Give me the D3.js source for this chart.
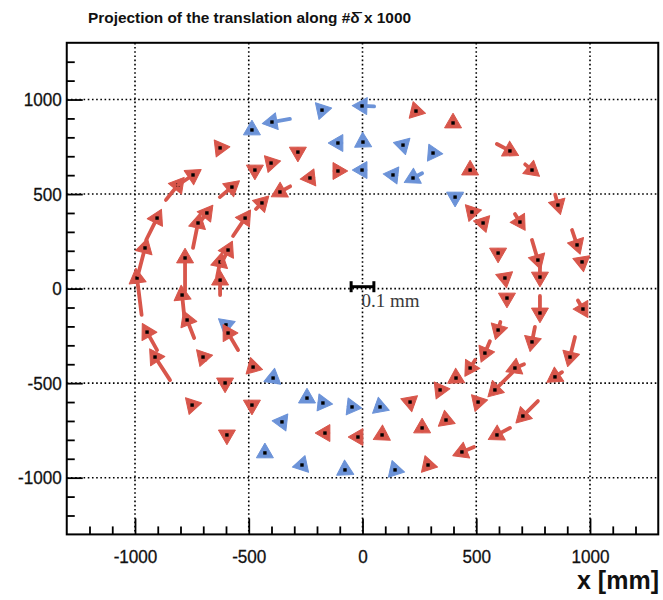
<!DOCTYPE html>
<html>
<head>
<meta charset="utf-8">
<script src="https://cdn.jsdelivr.net/npm/d3@7"></script>
<style>
  body { margin: 0; background: #fff; }
</style>
</head>
<body>
<svg id="chart" width="663" height="600"></svg>
<script>
// Module centres in the transverse plane (mm)
const posX = [
  -991, -956, -903, -811, -745, -626, -486, -398, -178, -2, 235, 398, 648, 745, 859, 943,
  965, 969, 912, 846, 705, 591, 437, 288, 143, -77, -266, -429, -596, -749, -912, -947,
  -780, -793, -771, -701, -604, -486, -354, -165, -20, 86, 262, 367, 508, 582, 670, 745,
  780, 780, 771, 692, 473, 310, 178, 2, -108, -284, -402, -473, -574, -684, -723,
  -626, -626, -591, -516, -442, -363, -231, -108, -2, 134, 222, 407, 481, 530, 596, 626,
  635, 596, 538, 473, 411, 341, 209, 77, -46, -174, -244, -393, -481, -591, -600
];
const posY = [
  56, 215, 373, 548, 601, 744, 839, 881, 944, 966, 939, 876, 728, 627, 442, 231,
  141, -108, -362, -467, -674, -774, -864, -933, -959, -959, -933, -869, -774, -616, -362, -230,
  162, -34, -166, -362, -499, -616, -705, -764, -785, -774, -737, -695, -600, -536, -420, -282,
  -129, 61, 151, 352, 627, 717, 759, 775, 770, 722, 664, 627, 537, 400, 347,
  45, 141, 204, 373, 453, 511, 585, 622, 627, 601, 585, 484, 405, 347, 188, 56,
  -50, -219, -341, -420, -473, -536, -600, -626, -626, -605, -579, -473, -415, -235, -192
];
// Projected translation of each module (mm); drawn magnified x1000
const shiftX = [
  -0.020, 0.031, 0.048, 0.053, 0.066, -0.005, 0.000, -0.079, -0.009, -0.053, 0.014, 0.000, 0.057, 0.030, 0.012, 0.022,
  0.002, 0.022, -0.022, -0.031, -0.066, -0.057, -0.053, -0.004, 0.015, 0.013, 0.004, 0.000, 0.000, -0.004, -0.066, -0.044,
  0.000, -0.009, -0.031, -0.011, 0.000, 0.000, 0.008, -0.015, -0.015, -0.013, 0.000, -0.002, -0.009, -0.075, -0.040, -0.013,
  0.000, 0.000, 0.026, 0.022, 0.000, -0.008, 0.010, -0.012, -0.015, 0.000, -0.004, 0.000, 0.053, 0.044, 0.022,
  0.000, 0.013, 0.026, 0.053, 0.026, -0.045, -0.015, 0.015, -0.015, -0.015, -0.040, 0.000, -0.009, 0.004, 0.000, 0.002,
  0.000, -0.010, -0.022, -0.022, -0.012, -0.008, -0.014, 0.014, 0.015, 0.015, 0.000, 0.002, -0.010, -0.044, -0.011
];
const shiftY = [
  0.195, 0.143, 0.116, 0.079, 0.053, -0.014, 0.015, -0.016, 0.012, 0.002, -0.004, 0.015, -0.037, -0.030, -0.055, -0.079,
  -0.015, -0.045, -0.106, -0.025, -0.079, -0.037, -0.026, 0.015, -0.004, -0.008, 0.015, 0.015, -0.015, -0.015, 0.122, 0.095,
  0.175, 0.106, 0.095, 0.015, -0.015, -0.015, 0.013, 0.000, 0.000, -0.008, 0.015, 0.015, 0.012, -0.090, -0.020, -0.079,
  -0.090, -0.079, -0.106, -0.042, 0.015, -0.014, 0.012, -0.009, 0.000, -0.015, -0.015, -0.015, 0.053, 0.069, 0.132,
  0.079, 0.079, 0.063, 0.095, 0.032, -0.030, -0.002, 0.000, 0.000, 0.002, -0.025, -0.015, 0.012, -0.015, -0.015, -0.015,
  -0.015, -0.042, -0.063, -0.042, -0.009, 0.013, 0.006, -0.006, -0.002, -0.002, 0.015, 0.015, -0.012, 0.090, 0.011
];
// Marker family: 0 = red, 1 = blue
const family = [
  0, 0, 0, 0, 0, 0, 1, 1, 1, 1, 0, 0, 0, 0, 0, 0,
  0, 0, 0, 0, 0, 0, 0, 0, 1, 1, 1, 1, 0, 0, 0, 0,
  0, 0, 0, 0, 0, 0, 1, 0, 0, 0, 0, 0, 0, 0, 0, 0,
  0, 0, 0, 0, 0, 1, 1, 1, 1, 0, 0, 0, 0, 0, 0,
  0, 0, 0, 0, 0, 0, 0, 0, 1, 1, 1, 1, 0, 0, 0, 0,
  0, 0, 0, 0, 0, 0, 0, 1, 1, 1, 1, 1, 0, 0, 1
];
const xTickValues = [-1000, -500, 0, 500, 1000];
const yTickValues = [-1000, -500, 0, 500, 1000];
const magnification = 1000;
const scaleBarMm = 0.1;

const svg = d3.select("#chart");
const frameL = 66.75, frameR = 658.25, frameT = 42.8, frameB = 534.4;
const x = d3.scaleLinear().domain([-1300, 1300]).range([frameL, frameR]);
const y = d3.scaleLinear().domain([-1300, 1300]).range([frameB, frameT]);
const colours = ["#d8564b", "#6c93d8"];
const sans = "'Liberation Sans', Arial, Helvetica, sans-serif";

// Title
const title = svg.append("text")
  .attr("x", 88).attr("y", 23)
  .style("font-family", sans).style("font-size", "15px").style("font-weight", "bold")
  .attr("fill", "#111").attr("textLength", 323).attr("lengthAdjust", "spacingAndGlyphs");
title.append("tspan").text("Projection of the translation along #");
title.append("tspan").text("\u03B4\u0304");
title.append("tspan").text(" x 1000");

// Dotted grid at the major ticks
const grid = svg.append("g").attr("stroke", "#000").attr("stroke-width", 1.6)
  .attr("stroke-dasharray", "1.6 2.6");
grid.selectAll("line.v").data(xTickValues).join("line").attr("class", "v")
  .attr("x1", d => x(d)).attr("x2", d => x(d)).attr("y1", frameT).attr("y2", frameB);
grid.selectAll("line.h").data(yTickValues).join("line").attr("class", "h")
  .attr("x1", frameL).attr("x2", frameR).attr("y1", d => y(d)).attr("y2", d => y(d));

// Axes (ticks pointing into the frame)
const minorX = d3.range(-1200, 1300, 100).filter(v => v % 500 !== 0);
const minorY = d3.range(-1200, 1300, 100).filter(v => v % 500 !== 0);
const plain = d => String(d);

function styleAxis(g) {
  g.select(".domain").remove();
  g.selectAll(".tick line").attr("stroke", "#000").attr("stroke-width", 1.8);
}
function styleLabels(g) {
  g.selectAll("text")
    .style("font-family", sans).style("font-size", "19px")
    .attr("fill", "#111").attr("stroke", "#111").attr("stroke-width", 0.3)
    .attr("textLength", function () { return this.getComputedTextLength() * 0.9; })
    .attr("lengthAdjust", "spacingAndGlyphs");
}

svg.append("g").attr("transform", `translate(0,${frameB})`)
  .call(d3.axisBottom(x).tickValues(minorX).tickSize(-8).tickFormat(""))
  .call(styleAxis);
svg.append("g").attr("transform", `translate(0,${frameB})`)
  .call(d3.axisBottom(x).tickValues(xTickValues).tickSize(-16).tickPadding(15).tickFormat(plain))
  .call(styleAxis).call(styleLabels);

svg.append("g").attr("transform", `translate(${frameL},0)`)
  .call(d3.axisLeft(y).tickValues(minorY).tickSize(-8).tickFormat(""))
  .call(styleAxis);
svg.append("g").attr("transform", `translate(${frameL},0)`)
  .call(d3.axisLeft(y).tickValues(yTickValues).tickSize(-16).tickPadding(5).tickFormat(plain))
  .call(styleAxis).call(styleLabels);

// Frame
svg.append("rect").attr("x", frameL).attr("y", frameT)
  .attr("width", frameR - frameL).attr("height", frameB - frameT)
  .attr("fill", "none").attr("stroke", "#000").attr("stroke-width", 2);

// Axis title
svg.append("text").attr("x", 659).attr("y", 589).attr("text-anchor", "end")
  .style("font-family", sans).style("font-size", "25px").style("font-weight", "bold")
  .attr("fill", "#111").attr("textLength", 82).attr("lengthAdjust", "spacingAndGlyphs")
  .text("x [mm]");

// Translation arrows: triangular head on the module, tail behind it
const modules = posX.map((px, i) => {
  const cx = x(px), cy = y(posY[i]);
  const hx = x(px + shiftX[i] * magnification) - cx;
  const hy = y(posY[i] + shiftY[i] * magnification) - cy;
  return { cx, cy, hx, hy, fam: family[i] };
}).sort((a, b) => b.fam - a.fam);

const side = 17, h = side * Math.sqrt(3) / 2;
const tri = `M${(2 * h / 3).toFixed(2)},0L${(-h / 3).toFixed(2)},${side / 2}L${(-h / 3).toFixed(2)},${-side / 2}Z`;

const arrows = svg.append("g");
const m = arrows.selectAll("g").data(modules).join("g");
m.append("line")
  .attr("x1", d => d.cx).attr("y1", d => d.cy)
  .attr("x2", d => d.cx - d.hx).attr("y2", d => d.cy - d.hy)
  .attr("stroke", d => colours[d.fam]).attr("stroke-width", 3.8).attr("stroke-linecap", "round");
m.append("path")
  .attr("d", tri)
  .attr("transform", d => `translate(${d.cx},${d.cy}) rotate(${Math.atan2(d.hy, d.hx) * 180 / Math.PI})`)
  .attr("fill", d => colours[d.fam])
  .attr("stroke", d => colours[d.fam]).attr("stroke-width", 1).attr("stroke-linejoin", "round");
m.append("rect")
  .attr("x", d => d.cx - 1.7).attr("y", d => d.cy - 1.7)
  .attr("width", 3.4).attr("height", 3.4).attr("fill", "#000");

// Scale bar: 0.1 mm magnified
const barY = 10;
const x0 = x(-scaleBarMm * magnification / 2), x1 = x(scaleBarMm * magnification / 2);
const bar = svg.append("g").attr("stroke", "#000").attr("stroke-width", 3);
bar.append("line").attr("x1", x0).attr("x2", x1).attr("y1", y(barY)).attr("y2", y(barY));
bar.append("line").attr("x1", x0).attr("x2", x0).attr("y1", y(barY) - 5.5).attr("y2", y(barY) + 5.5);
bar.append("line").attr("x1", x1).attr("x2", x1).attr("y1", y(barY) - 5.5).attr("y2", y(barY) + 5.5);
svg.append("text").attr("x", x(0) - 1).attr("y", 307)
  .style("font-family", "'Liberation Serif', 'Times New Roman', serif").style("font-size", "19px")
  .attr("fill", "#3a3a3a")
  .text(`${scaleBarMm} mm`);
</script>
</body>
</html>
